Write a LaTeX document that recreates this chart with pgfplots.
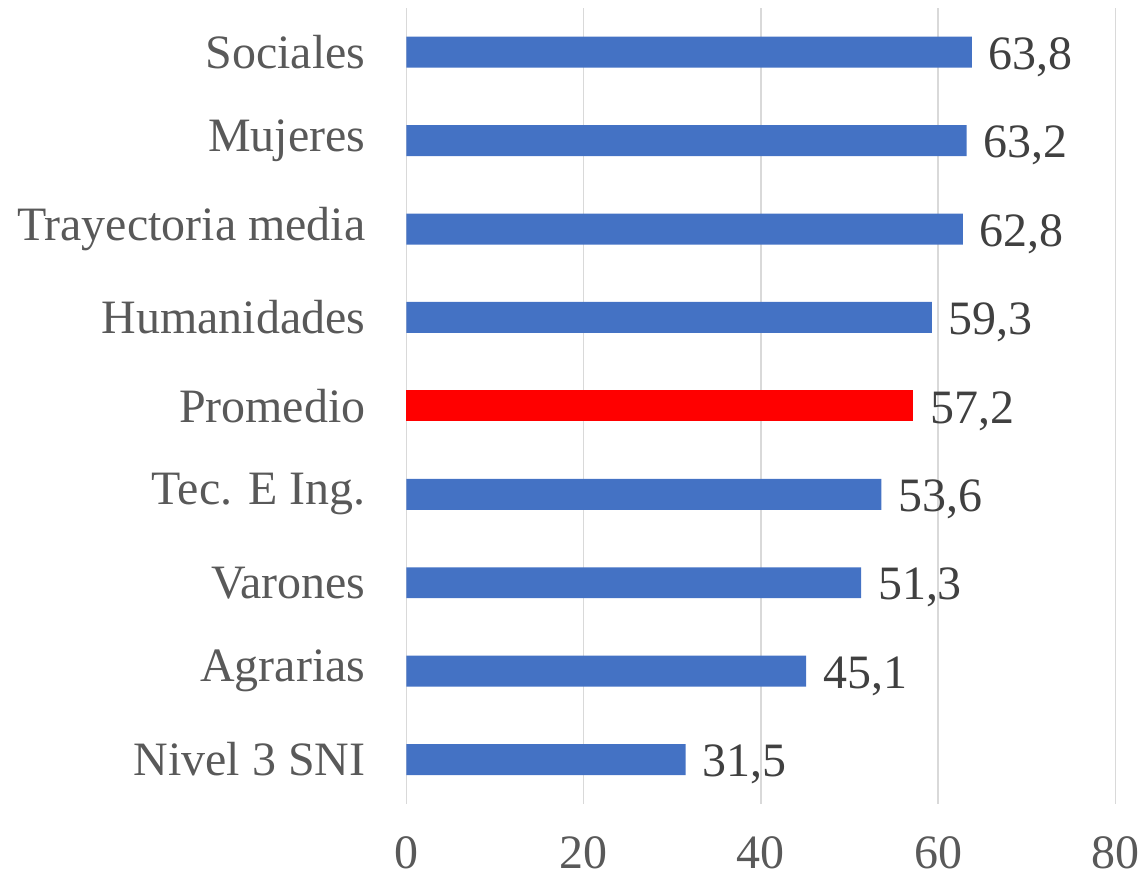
\documentclass[border=0pt]{standalone}
\usepackage{pgfplots}
\pgfplotsset{compat=1.18}
\usepackage{fontspec}
\setmainfont{Liberation Serif}
\definecolor{barblue}{HTML}{4472C4}
\definecolor{gridgray}{HTML}{D9D9D9}
\definecolor{labgray}{HTML}{595959}
\definecolor{valgray}{HTML}{404040}
\begin{document}
\begin{tikzpicture}
\begin{axis}[
  name=ax,
  scale only axis,
  width=355pt, height=398.5pt,
  xbar, bar width=15.5pt, bar shift=0pt,
  xmin=0, xmax=80,
  ymin=-0.5, ymax=8.5,
  xtick={0,20,40,60,80},
  ytick={0,1,2,3,4,5,6,7,8},
  yticklabels={Nivel 3 SNI,Agrarias,Varones,{Tec. E Ing.},Promedio,Humanidades,Trayectoria media,Mujeres,Sociales},
  axis line style={draw=none},
  major tick length=0pt,
  xmajorgrids, grid style={gridgray, line width=0.8pt},
  /pgf/number format/assume math mode=true,
  ticklabel style={font=\fontsize{24}{28}\selectfont, text=labgray},
  yticklabel style={xshift=-17pt},
  xticklabel style={yshift=-13pt},
  nodes near coords,
  nodes near coords style={font=\fontsize{24}{28}\selectfont, text=valgray, xshift=5pt, yshift=-2.5pt,
    /pgf/number format/.cd, fixed, fixed zerofill, precision=1, use comma, assume math mode=true},
  point meta=x,
  clip=false,
]
\addplot[fill=barblue, draw=none] coordinates {(31.5,0) (45.1,1) (51.3,2) (53.6,3) (59.3,5) (62.8,6) (63.2,7) (63.8,8)};
\addplot[fill=red, draw=none] coordinates {(57.2,4)};
\end{axis}
\path ([xshift=-203.5pt,yshift=-37.5pt]ax.south west) rectangle ([xshift=14.5pt,yshift=4pt]ax.north east);
\end{tikzpicture}
\end{document}
